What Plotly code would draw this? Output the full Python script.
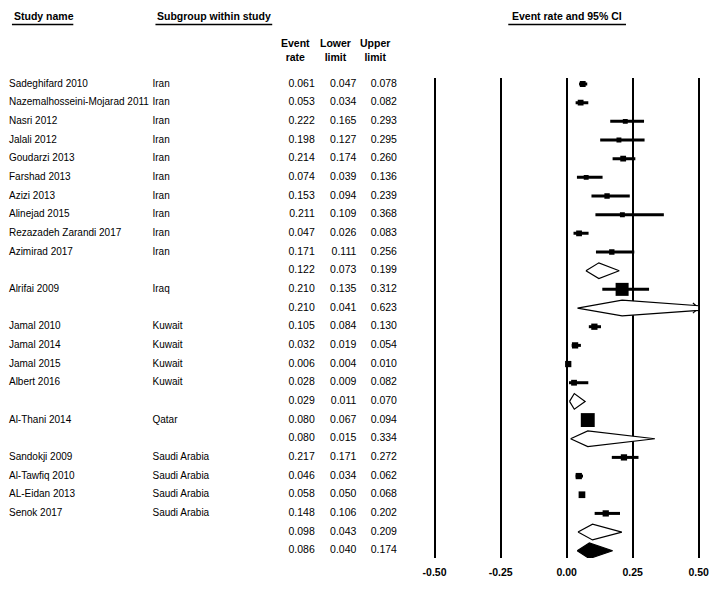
import plotly.graph_objects as go

# ---------------- data ----------------
study_names = ["Sadeghifard 2010", "Nazemalhosseini-Mojarad 2011", "Nasri 2012", "Jalali 2012",
               "Goudarzi 2013", "Farshad 2013", "Azizi 2013", "Alinejad 2015",
               "Rezazadeh Zarandi 2017", "Azimirad 2017",
               "Alrifai 2009",
               "Jamal 2010", "Jamal 2014", "Jamal 2015", "Albert 2016",
               "Al-Thani 2014",
               "Sandokji 2009", "Al-Tawfiq 2010", "AL-Eidan 2013", "Senok 2017"]
study_subgroup = ["Iran"] * 10 + ["Iraq"] + ["Kuwait"] * 4 + ["Qatar"] + ["Saudi Arabia"] * 4
study_rate = [0.061, 0.053, 0.222, 0.198, 0.214, 0.074, 0.153, 0.211, 0.047, 0.171,
              0.210, 0.105, 0.032, 0.006, 0.028, 0.080, 0.217, 0.046, 0.058, 0.148]
study_lower = [0.047, 0.034, 0.165, 0.127, 0.174, 0.039, 0.094, 0.109, 0.026, 0.111,
               0.135, 0.084, 0.019, 0.004, 0.009, 0.067, 0.171, 0.034, 0.050, 0.106]
study_upper = [0.078, 0.082, 0.293, 0.295, 0.260, 0.136, 0.239, 0.368, 0.083, 0.256,
               0.312, 0.130, 0.054, 0.010, 0.082, 0.094, 0.272, 0.062, 0.068, 0.202]
# relative weight (box size)
study_weight = [2, 2, 1, 1, 2, 1, 1.5, 1, 2, 1.5,
                10, 2.5, 2.5, 2.5, 2, 11, 2.5, 2.5, 3, 2.5]

group_names = ["Iran", "Iraq", "Kuwait", "Qatar", "Saudi Arabia"]
group_rate = [0.122, 0.210, 0.029, 0.080, 0.098]
group_lower = [0.073, 0.041, 0.011, 0.015, 0.043]
group_upper = [0.199, 0.623, 0.070, 0.334, 0.209]

overall_rate = 0.086
overall_lower = 0.040
overall_upper = 0.174

tick_values = [-0.50, -0.25, 0.00, 0.25, 0.50]
tick_labels = ["-0.50", "-0.25", "0.00", "0.25", "0.50"]

# ---------------- layout constants ----------------
W, H = 712, 591
PLOT_L, PLOT_R = 426.7, 704.3
PLOT_T, PLOT_B = 78, 558
ROW0, ROW_H = 84, 18.67
X_MIN, X_MAX = -0.52, 0.52
CLIP = 0.5
FONT = "Liberation Sans, Arial, sans-serif"
FS = 10.5
FS_TXT = 10
DH = 0.42  # diamond half height in rows
TXT_PAD = 3  # text-mode padding applied by plotly


def row_of(px):
    return (px - ROW0) / ROW_H


def paper_y(px):
    return (PLOT_B - px) / (PLOT_B - PLOT_T)


# build rows
rows_text = []   # (row, name, subgroup, rate, lo, hi)
study_rows = []
diamonds = []    # (row, rate, lo, hi, filled)
r = 0
for g, gname in enumerate(group_names):
    for i, sg in enumerate(study_subgroup):
        if sg == gname:
            rows_text.append((r, study_names[i], sg, study_rate[i], study_lower[i], study_upper[i]))
            study_rows.append((r, i))
            r += 1
    rows_text.append((r, "", "", group_rate[g], group_lower[g], group_upper[g]))
    diamonds.append((r, group_rate[g], group_lower[g], group_upper[g], False))
    r += 1
rows_text.append((r, "", "", overall_rate, overall_lower, overall_upper))
diamonds.append((r, overall_rate, overall_lower, overall_upper, True))

fig = go.Figure()

# studies: boxes with CI lines
for (row, i) in study_rows:
    fig.add_trace(go.Scatter(
        x=[study_rate[i]], y=[row], mode="markers",
        marker=dict(symbol="square", color="black", size=4 + 0.9 * study_weight[i],
                    line=dict(width=0)),
        error_x=dict(type="data", symmetric=False,
                     array=[study_upper[i] - study_rate[i]],
                     arrayminus=[study_rate[i] - study_lower[i]],
                     color="black", thickness=3, width=0),
        showlegend=False, hoverinfo="skip", xaxis="x", yaxis="y"))

# diamonds
for (row, est, lo, hi, filled) in diamonds:
    if hi > CLIP:
        t = (CLIP - est) / (hi - est)
        yy = DH * (1 - t)
        xs = [lo, est, CLIP, CLIP, est, lo]
        ys = [row, row - DH, row - yy, row + yy, row + DH, row]
        fig.add_trace(go.Scatter(
            x=[CLIP - 0.022, CLIP, CLIP - 0.022], y=[row - 0.27, row, row + 0.27],
            mode="lines", line=dict(color="black", width=1.2),
            showlegend=False, hoverinfo="skip"))
    else:
        xs = [lo, est, hi, est, lo]
        ys = [row, row - DH, row, row + DH, row]
    fig.add_trace(go.Scatter(
        x=xs, y=ys, mode="lines", fill="toself",
        fillcolor="black" if filled else "white",
        line=dict(color="black", width=1.2),
        showlegend=False, hoverinfo="skip"))

# table text (on a second x axis measured in pixels)
rows_y = [t[0] for t in rows_text]
for col, xl in zip([1, 2], [5, 150]):
    fig.add_trace(go.Scatter(
        x=[xl - TXT_PAD] * len(rows_text), y=rows_y, text=[t[col] for t in rows_text],
        mode="text", textposition="middle right",
        textfont=dict(family=FONT, size=FS_TXT, color="black"),
        xaxis="x2", yaxis="y", showlegend=False, hoverinfo="skip", cliponaxis=False))
for col, xr in zip([3, 4, 5], [308, 350, 391]):
    fig.add_trace(go.Scatter(
        x=[xr + TXT_PAD] * len(rows_text), y=rows_y, text=[f"{t[col]:.3f}" for t in rows_text],
        mode="text", textposition="middle left",
        textfont=dict(family=FONT, size=FS, color="black"),
        xaxis="x2", yaxis="y", showlegend=False, hoverinfo="skip", cliponaxis=False))

# headers
ann = []
for txt, x in [("<b>Study name</b>", 5), ("<b>Subgroup within study</b>", 150)]:
    ann.append(dict(text=txt, x=x, xref="x2", y=paper_y(16), yref="paper",
                    xanchor="left", yanchor="middle", showarrow=False,
                    font=dict(family=FONT, size=FS, color="black")))
ann.append(dict(text="<b>Event rate and 95% CI</b>", x=0.0, xref="x", y=paper_y(16), yref="paper",
                xanchor="center", yanchor="middle", showarrow=False,
                font=dict(family=FONT, size=FS, color="black")))
for txt, x in [("<b>Event<br>rate</b>", 292), ("<b>Lower<br>limit</b>", 332), ("<b>Upper<br>limit</b>", 372)]:
    ann.append(dict(text=txt, x=x, xref="x2", y=paper_y(49.5), yref="paper",
                    xanchor="center", yanchor="middle", showarrow=False, align="center",
                    font=dict(family=FONT, size=FS, color="black")))

shapes = []
for x0, x1, xref in [(5, 67, "x2"), (150, 268, "x2"),
                     ((507 - 566) / 267, (626 - 566) / 267, "x")]:
    shapes.append(dict(type="line", xref=xref, yref="paper", x0=x0, x1=x1,
                       y0=paper_y(24.5), y1=paper_y(24.5),
                       line=dict(color="black", width=1.5)))

plot_w = PLOT_R
fig.update_layout(
    width=W, height=H,
    margin=dict(l=0, r=W - PLOT_R, t=PLOT_T, b=H - PLOT_B, pad=0),
    paper_bgcolor="white", plot_bgcolor="white",
    showlegend=False,
    xaxis=dict(domain=[PLOT_L / plot_w, 1], range=[X_MIN, X_MAX],
               tickvals=tick_values, ticktext=tick_labels,
               tickfont=dict(family=FONT, size=FS, color="black", weight="bold"),
               showgrid=True, gridcolor="black", gridwidth=1.5,
               zeroline=True, zerolinecolor="black", zerolinewidth=1.5,
               showline=False, ticks="", ticklabelstandoff=6, fixedrange=True),
    xaxis2=dict(domain=[0, PLOT_L / plot_w], range=[0, PLOT_L], anchor="y",
                visible=False, fixedrange=True),
    yaxis=dict(range=[row_of(PLOT_B), row_of(PLOT_T)], visible=False, fixedrange=True),
    annotations=ann, shapes=shapes,
)

fig.write_html("out.html", config={"displayModeBar": False},
               post_script="document.body.style.margin='0';")
